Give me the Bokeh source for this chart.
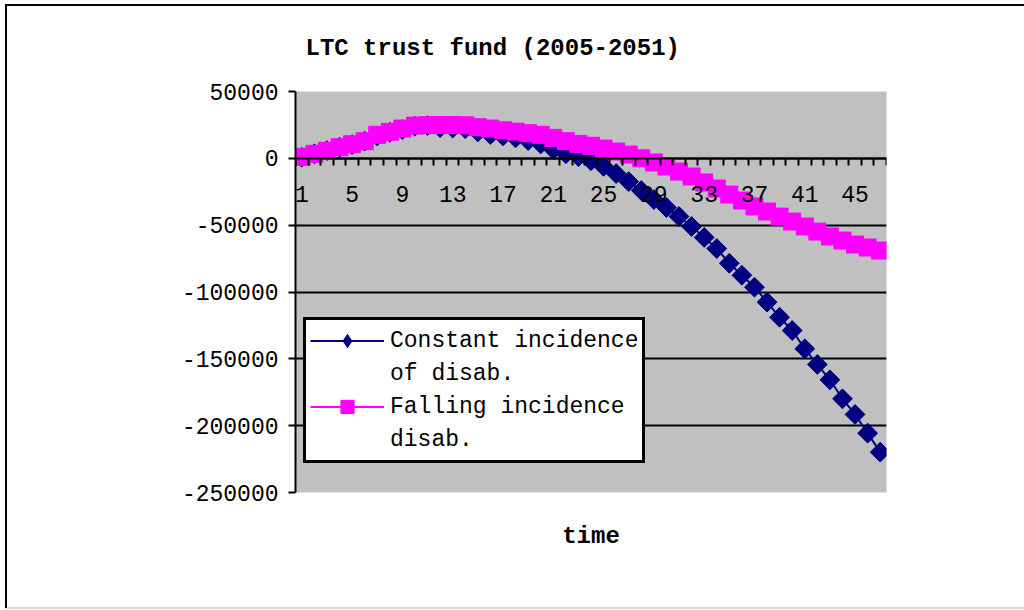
import numpy as np
from bokeh.plotting import figure
from bokeh.models import Range1d, LinearAxis, FixedTicker, Legend, LegendItem, Grid, Title
from bokeh.embed import file_html
from bokeh.resources import INLINE

# ---------------- data ----------------
time = list(range(1, 48))
constant = [800, 3400, 5800, 8300, 10300, 12900, 16700, 19500, 21500, 24000,
            24500, 23000, 22700, 22200, 19800, 17800, 16800, 15300, 13300, 10800,
            6600, 3400, 1200, -1800, -6000, -11400, -17400, -24100, -30800, -36800,
            -43500, -51000, -59200, -67500, -78500, -87500, -96400, -107600, -118900, -128800,
            -142500, -154200, -165700, -179900, -191600, -205600, -219800]
falling = [1100, 3400, 5600, 8300, 10500, 12800, 17600, 19800, 22300, 24500,
           24800, 24900, 24900, 24700, 23300, 22300, 21000, 20000, 18800, 17600,
           15300, 12800, 10800, 9400, 7300, 5100, 2800, 0, -3100, -6100,
           -9900, -13600, -18100, -22600, -27100, -31600, -36000, -39800, -43600, -47300,
           -51000, -54800, -58500, -61500, -64500, -66700, -69000]
x_tick_positions = [1, 5, 9, 13, 17, 21, 25, 29, 33, 37, 41, 45]
x_tick_labels = ["1", "5", "9", "13", "17", "21", "25", "29", "33", "37", "41", "45"]
y_ticks = [50000, 0, -50000, -100000, -150000, -200000, -250000]
y_tick_labels = ["50000", "0", "-50000", "-100000", "-150000", "-200000", "-250000"]
title_text = "LTC trust fund (2005-2051)"
x_label = "time"
legend_lines = [["Constant incidence", "of disab."], ["Falling incidence", "disab."]]

FONT = "Liberation Mono"
NAVY = "#000080"
MAGENTA = "#FF00FF"

p = figure(width=1024, height=610, output_backend="svg", toolbar_location=None,
           x_range=Range1d(0.5, 47.5), y_range=Range1d(-250000, 50000),
           x_axis_type=None, y_axis_type=None,
           min_border_left=295, min_border_right=138, min_border_top=91, min_border_bottom=118)
p.background_fill_color = "#C0C0C0"
p.border_fill_color = None
p.outline_line_color = None
# outer chart-area border (left/top black, faint bottom edge)
p.styles = {"background": "linear-gradient(#000,#000) 5px 4px / 1019px 2px no-repeat, "
                          "linear-gradient(#000,#000) 5px 4px / 2px 604px no-repeat, "
                          "linear-gradient(#d8d8d8,#d8d8d8) 5px 607px / 1019px 2px no-repeat, "
                          "white"}

p.title = Title(text=title_text, text_font=FONT, text_font_size="24px",
                text_font_style="bold", text_color="black", align="left",
                offset=10, standoff=60)

# horizontal gridlines
p.add_layout(Grid(dimension=1, ticker=FixedTicker(ticks=y_ticks),
                  grid_line_color="black", grid_line_width=2))

# y axis
yaxis = LinearAxis(ticker=FixedTicker(ticks=y_ticks),
                   major_label_overrides={v: s for v, s in zip(y_ticks, y_tick_labels)},
                   axis_line_width=2, axis_line_color="black",
                   major_tick_out=7, major_tick_in=0, major_tick_line_width=2,
                   minor_tick_line_color=None,
                   major_label_standoff=10,
                   major_label_text_font=FONT, major_label_text_font_size="23px",
                   major_label_text_color="black")
p.add_layout(yaxis, "left")

# invisible bottom axis carrying the axis title
title_axis = LinearAxis(ticker=FixedTicker(ticks=[]), axis_line_color=None,
                        major_tick_line_color=None, minor_tick_line_color=None,
                        major_tick_out=0, major_tick_in=0, major_label_standoff=0,
                        axis_label=x_label, axis_label_standoff=30,
                        axis_label_text_font=FONT, axis_label_text_font_size="24px",
                        axis_label_text_font_style="bold", axis_label_text_color="black")
p.add_layout(title_axis, "below")

# x (category) axis crossing at zero
boundaries = [i + 0.5 for i in range(0, len(time) + 1)]
xaxis = LinearAxis(fixed_location=0,
                   ticker=FixedTicker(ticks=x_tick_positions, minor_ticks=boundaries),
                   major_label_overrides={v: s for v, s in zip(x_tick_positions, x_tick_labels)},
                   axis_line_width=2, axis_line_color="black",
                   major_tick_out=0, major_tick_in=0,
                   minor_tick_out=7, minor_tick_in=0, minor_tick_line_width=2,
                   minor_tick_line_color="black",
                   major_label_standoff=21,
                   major_label_text_font=FONT, major_label_text_font_size="23px",
                   major_label_text_color="black")
p.add_layout(xaxis, "below")

# series
r1l = p.line(time, constant, line_color=NAVY, line_width=2)
# diamond used as legend swatch; hidden under the rotated-square markers
r1d = p.scatter(time, constant, marker="diamond", size=16,
                fill_color=NAVY, line_color=NAVY)
r1m = p.scatter(time, constant, marker="square", angle=np.pi / 4, size=14,
                fill_color=NAVY, line_color=NAVY)
r2l = p.line(time, falling, line_color=MAGENTA, line_width=2)
r2m = p.scatter(time, falling, marker="square", size=17,
                fill_color=MAGENTA, line_color=MAGENTA)

legend = Legend(items=[LegendItem(label=legend_lines[0][0], renderers=[r1l, r1d]),
                       LegendItem(label=legend_lines[0][1], renderers=[]),
                       LegendItem(label=legend_lines[1][0], renderers=[r2l, r2m]),
                       LegendItem(label=legend_lines[1][1], renderers=[])],
                location=(8, 29), margin=0, padding=4, spacing=0,
                glyph_width=74, glyph_height=33, label_height=33, label_standoff=6,
                label_text_font=FONT, label_text_font_size="23px",
                label_text_color="black",
                background_fill_color="white", background_fill_alpha=1,
                border_line_color="black", border_line_alpha=1, border_line_width=3)
p.add_layout(legend)

open("out.html", "w").write(file_html(p, INLINE))
